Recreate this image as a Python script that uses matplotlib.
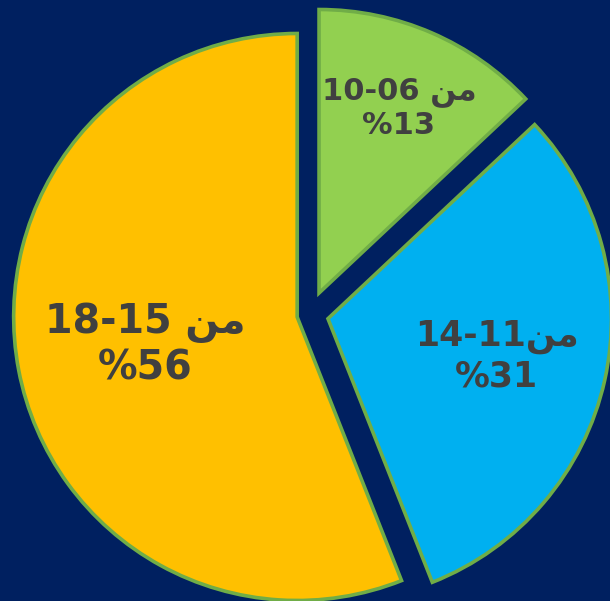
import numpy as np
import matplotlib
matplotlib.use("Agg")
import matplotlib.pyplot as plt

# Data (order: counter-clockwise from the top)
categories = ["18-15", "14-11", "10-06"]
values = [56, 31, 13]
pct_labels = ["%56", "%31", "%13"]
seps = [" ", "", " "]
MIN_AR = "\uFEE6\uFEE3"  # "من" in shaped presentation forms, visual order

colors = ["#FFC000", "#00B0F0", "#92D050"]
explode = [0.045, 0.066, 0.083]
label_dist = [0.545, 0.61, 0.71]
font_sizes = [28.5, 25, 22]
bg = "#002060"

W, H = 610, 601
s = 283.5          # pixels per radius unit
cx, cy = 309.7, 314.6  # pie centre in pixels (from top-left)

fig = plt.figure(figsize=(W / 100, H / 100), dpi=100, facecolor=bg)
ax = fig.add_axes([0, 0, 1, 1])
ax.set_facecolor(bg)

wedges, _ = ax.pie(values, colors=colors, explode=explode, startangle=90,
                   counterclock=True, radius=1.0,
                   wedgeprops=dict(edgecolor="#70AD47", linewidth=2.6,
                                   joinstyle="miter"))

for w, cat, sep, pct, d, fs, ex in zip(wedges, categories, seps, pct_labels,
                                       label_dist, font_sizes, explode):
    ang = np.deg2rad((w.theta1 + w.theta2) / 2)
    x = (d + ex) * np.cos(ang)
    y = (d + ex) * np.sin(ang)
    ax.text(x, y, f"{cat}{sep}{MIN_AR}\n{pct}", ha="center", va="center",
            multialignment="center", fontsize=fs, fontweight="bold",
            color="#404040", family=["DejaVu Sans"], linespacing=1.18)

ax.set_xlim(-cx / s, (W - cx) / s)
ax.set_ylim(-(H - cy) / s, cy / s)
ax.set_aspect("auto")
ax.axis("off")

fig.savefig("out.png", dpi=100, facecolor=bg)
